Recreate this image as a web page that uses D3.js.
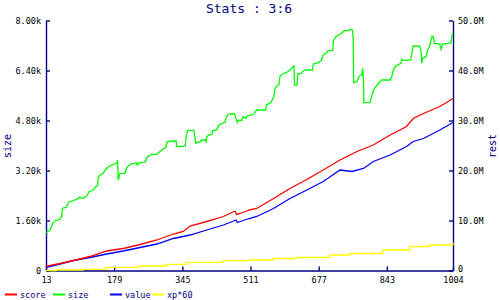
<!DOCTYPE html>
<html><head><meta charset="utf-8">
<script src="https://cdn.jsdelivr.net/npm/d3@7"></script>
<style>body{margin:0;background:#fff}svg{display:block}</style>
</head><body><svg id="c" width="500" height="300"></svg>
<script>
const title = "Stats : 3:6";
const seriesNames = ["score", "size", "value", "xp*60"];
const seriesColors = ["#ff0000", "#00ff00", "#0000ff", "#ffff00"];
const xTicks = [13, 179, 345, 511, 677, 843, 1004];
const leftTicks = [0, 1600, 3200, 4800, 6400, 8000];
const leftTickLabels = ["0", "1.60k", "3.20k", "4.80k", "6.40k", "8.00k"];
const rightTicks = [0, 10e6, 20e6, 30e6, 40e6, 50e6];
const rightTickLabels = ["0", "10.0M", "20.0M", "30.0M", "40.0M", "50.0M"];

// size (left axis)
const sizeX = [13,23,29,35,47,51,53,63,67,76,88,94,104,112,118,128,132,139,140,145,153,157,165,173,185,187,189,193,205,210,218,234,235,242,254,260,270,283,287,295,305,308,323,330,331,341,352,354,358,373,376,378,388,392,400,403,404,408,417,419,429,433,441,449,451,455,461,472,476,479,481,490,493,500,503,510,518,526,548,550,560,567,571,575,580,583,589,599,607,611,617,618,624,626,634,640,644,662,664,676,684,688,695,700,711,713,719,725,733,739,749,755,759,761,762,770,776,782,784,786,787,802,806,810,817,830,851,855,859,865,877,879,887,901,904,907,922,926,928,930,938,942,948,953,956,959,972,975,979,993,999,1002,1004];
const sizeV = [1210,1296,1510,1584,1638,1722,1990,2022,2170,2224,2278,2342,2310,2384,2522,2576,2650,2736,2982,3056,3130,3216,3322,3376,3430,3536,2896,3110,3110,3290,3408,3450,3376,3450,3470,3642,3718,3718,3770,3856,3942,4122,4144,4144,3962,3962,3984,4282,4486,4486,4230,4070,4122,4176,4176,4122,4262,4326,4368,4474,4496,4634,4710,4742,4858,4976,5008,5008,4838,4742,4806,4806,4922,4870,4954,4966,4998,5136,5136,5296,5370,5542,5830,5914,5936,6224,6288,6342,6416,6470,6540,5936,5936,6288,6310,6394,6416,6416,6608,6650,6736,6896,6950,7034,7034,7354,7482,7536,7590,7674,7674,7718,7696,7430,6010,6042,6224,6256,6470,6150,5370,5370,5562,5776,5904,6096,6096,6202,6438,6544,6630,6758,6714,6736,6950,7184,7184,7056,6630,6790,6842,7034,7216,7504,7482,7270,7248,7078,7248,7270,7290,7568,7590];

// rest (right axis)
const scoreX = [13,15,47,80,120,161,201,242,283,323,347,364,404,445,473,477,486,502,508,526,567,607,648,688,729,770,810,851,891,907,932,972,1004];
const scoreV = [0.7e6,0.9e6,1.4e6,2.0e6,2.8e6,3.9e6,4.4e6,5.2e6,6.1e6,7.3e6,7.8e6,8.9e6,9.8e6,10.8e6,11.9e6,11.2e6,11.4e6,11.9e6,12.1e6,12.4e6,14.4e6,16.4e6,18.2e6,20.1e6,22.1e6,23.8e6,25.1e6,27.1e6,28.8e6,30.4e6,31.4e6,32.8e6,34.4e6];
const valueX = [13,15,47,80,120,161,201,242,283,323,364,404,445,476,479,486,508,526,567,607,648,688,729,758,786,810,851,891,907,932,972,1004];
const valueV = [0.5e6,0.64e6,1.3e6,2.0e6,2.6e6,3.3e6,3.9e6,4.6e6,5.3e6,6.4e6,7.1e6,8.1e6,9.1e6,10.1e6,9.6e6,9.8e6,10.4e6,10.8e6,12.4e6,14.4e6,16.1e6,17.8e6,20.1e6,19.8e6,20.4e6,21.8e6,23.1e6,24.8e6,25.8e6,26.4e6,28.1e6,29.6e6];
const xpX = [13,37,103,160,241,306,355,444,508,566,623,704,753,834,899,947,996,1004];
const xpV = [0,0.1e6,0.24e6,0.64e6,0.9e6,1.24e6,1.64e6,1.96e6,2.1e6,2.4e6,2.6e6,3.1e6,3.4e6,4.1e6,4.8e6,5.1e6,5.2e6,5.6e6];

const navy = "#000080";
const svg = d3.select("#c");
const L = 46, R = 453, T = 20.5, B = 270.5;
const x = d3.scaleLinear().domain([13, 1004]).range([L, R]);
const yL = d3.scaleLinear().domain([0, 8000]).range([B, T]);
const yR = d3.scaleLinear().domain([0, 50e6]).range([B, T]);
const font = "'DejaVu Sans Mono', monospace";

svg.append("text").attr("x", 249).attr("y", 13).attr("text-anchor", "middle")
  .attr("font-family", font).attr("font-size", 13).attr("fill", navy).text(title);

function styleAxis(g) {
  g.select(".domain").attr("stroke", navy).attr("stroke-width", 1.4);
  g.selectAll(".tick line").attr("stroke", navy).attr("stroke-width", 1.4);
  g.selectAll(".tick text").attr("font-family", font).attr("font-size", 8.5).attr("fill", "#000");
}
const gx = svg.append("g").attr("transform", `translate(0,${B})`)
  .call(d3.axisBottom(x).tickValues(xTicks).tickFormat(d3.format("d")).tickSizeInner(-4).tickSizeOuter(0).tickPadding(6));
styleAxis(gx);
const gl = svg.append("g").attr("transform", `translate(${L},0)`)
  .call(d3.axisLeft(yL).tickValues(leftTicks).tickFormat((d, i) => leftTickLabels[i]).tickSizeInner(-4).tickSizeOuter(0).tickPadding(5));
styleAxis(gl);
const gr = svg.append("g").attr("transform", `translate(${R},0)`)
  .call(d3.axisRight(yR).tickValues(rightTicks).tickFormat((d, i) => rightTickLabels[i]).tickSizeInner(-4).tickSizeOuter(0).tickPadding(5));
styleAxis(gr);
gr.selectAll(".tick text").filter(d => d === 0).attr("dy", "0.1em");

svg.append("text").attr("transform", `translate(11,146) rotate(-90)`).attr("text-anchor", "middle")
  .attr("font-family", font).attr("font-size", 10).attr("fill", navy).text("size");
svg.append("text").attr("transform", `translate(496,146) rotate(-90)`).attr("text-anchor", "middle")
  .attr("font-family", font).attr("font-size", 10).attr("fill", navy).text("rest");

function draw(xs, vs, yScale, color, curve) {
  const pts = xs.map((d, i) => [d, vs[i]]);
  svg.append("path").datum(pts)
    .attr("d", d3.line().x(d => x(d[0])).y(d => yScale(d[1])).curve(curve || d3.curveLinear))
    .attr("fill", "none").attr("stroke", color).attr("stroke-width", 1.3);
}
draw(xpX, xpV, yR, seriesColors[3], d3.curveStepAfter);
draw(valueX, valueV, yR, seriesColors[2]);
draw(scoreX, scoreV, yR, seriesColors[0]);
draw(sizeX, sizeV, yL, seriesColors[1]);

const legendX = [5, 53, 110, 152];
const lg = svg.append("g");
seriesNames.forEach((n, i) => {
  lg.append("line").attr("x1", legendX[i]).attr("x2", legendX[i] + 12).attr("y1", 294.5).attr("y2", 294.5)
    .attr("stroke", seriesColors[i]).attr("stroke-width", 2);
  lg.append("text").attr("x", legendX[i] + 15).attr("y", 298).attr("font-family", font).attr("font-size", 8.5)
    .attr("fill", navy).text(n);
});
</script></body></html>
